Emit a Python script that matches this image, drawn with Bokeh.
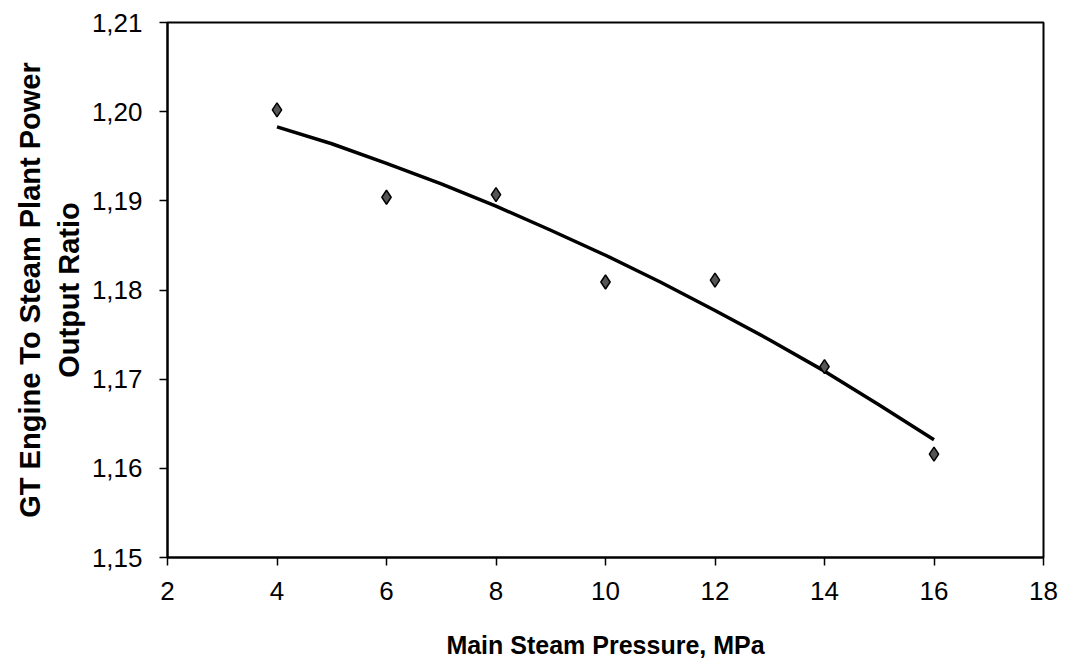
from bokeh.plotting import figure
from bokeh.models import Range1d, FixedTicker
from bokeh.embed import file_html
from bokeh.resources import INLINE

# measured points
pressure = [4, 6, 8, 10, 12, 14, 16]
ratio = [1.2002, 1.1904, 1.1907, 1.1809, 1.1811, 1.1714, 1.1616]

# trend line
trend_x = [4, 5, 6, 7, 8, 9, 10, 11, 12, 13, 14, 15, 16]
trend_y = [1.1983, 1.1964, 1.1942, 1.1919, 1.1894, 1.1867, 1.1839,
           1.1809, 1.1777, 1.1744, 1.1709, 1.1671, 1.1632]

x_ticks = [2, 4, 6, 8, 10, 12, 14, 16, 18]
y_ticks = [1.15, 1.16, 1.17, 1.18, 1.19, 1.20, 1.21]
y_labels = ["1,15", "1,16", "1,17", "1,18", "1,19", "1,20", "1,21"]

p = figure(width=1070, height=670, output_backend="svg", toolbar_location=None,
           x_range=Range1d(2, 18), y_range=Range1d(1.15, 1.21),
           min_border_left=167, min_border_right=27, min_border_top=22, min_border_bottom=113)

p.outline_line_color = "black"
p.outline_line_width = 2
p.xgrid.visible = False
p.ygrid.visible = False

p.line(trend_x, trend_y, line_color="black", line_width=3.5)
p.scatter(pressure, ratio, marker="diamond", size=14, fill_color="#555555",
          line_color="black", line_width=1.5)

font = "Liberation Sans"
p.xaxis.ticker = FixedTicker(ticks=x_ticks)
p.yaxis.ticker = FixedTicker(ticks=y_ticks)
p.yaxis.major_label_overrides = {t: l for t, l in zip(y_ticks, y_labels)}
for ax in (p.xaxis[0], p.yaxis[0]):
    ax.axis_line_color = "black"
    ax.axis_line_width = 2
    ax.major_tick_line_color = "black"
    ax.major_tick_line_width = 1.5
    ax.major_tick_out = 8
    ax.major_tick_in = 0
    ax.minor_tick_line_color = None
    ax.major_label_text_font = font
    ax.major_label_text_font_size = "26px"
    ax.major_label_text_color = "black"
    ax.axis_label_text_font = font
    ax.axis_label_text_font_style = "bold"
    ax.axis_label_text_color = "black"

p.xaxis.axis_label = "Main Steam Pressure, MPa"
p.xaxis.axis_label_text_font_size = "25px"
p.xaxis.major_label_standoff = 16
p.xaxis.axis_label_standoff = 28
p.yaxis.axis_label = "GT Engine To Steam Plant Power\nOutput Ratio"
p.yaxis.axis_label_text_font_size = "29px"
p.yaxis.major_label_standoff = 17
p.yaxis.axis_label_standoff = 4

open("out.html", "w").write(file_html(p, INLINE))
